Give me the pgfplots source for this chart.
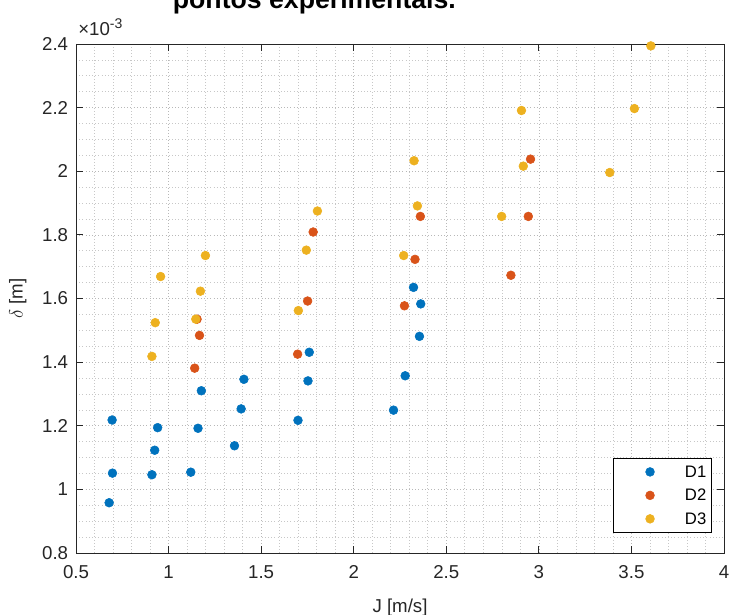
\documentclass[border=0pt]{standalone}
\usepackage{fontspec}
\setmainfont{Liberation Sans}
\usepackage{pgfplots}
\pgfplotsset{compat=1.18}

\definecolor{mblue}{rgb}{0,0.447,0.741}
\definecolor{mred}{rgb}{0.85,0.325,0.098}
\definecolor{myellow}{rgb}{0.929,0.694,0.125}
\definecolor{axgray}{rgb}{0.15,0.15,0.15}

% delta in units of 1e-3 m
\pgfplotstableread{
J delta
0.679 0.958
0.697 1.051
0.695 1.218
0.941 1.194
0.925 1.123
0.910 1.046
1.159 1.192
1.177 1.310
1.120 1.054
1.407 1.346
1.392 1.253
1.356 1.137
1.760 1.431
1.753 1.341
1.699 1.217
2.323 1.635
2.362 1.583
2.355 1.481
2.278 1.357
2.215 1.249
}\dataA
\pgfplotstableread{
J delta
1.154 1.535
1.167 1.484
1.141 1.381
1.697 1.425
1.751 1.592
1.781 1.809
2.274 1.577
2.331 1.723
2.360 1.858
2.849 1.673
2.943 1.858
2.955 2.038
}\dataB
\pgfplotstableread{
J delta
0.910 1.418
0.928 1.524
0.957 1.669
1.147 1.535
1.172 1.623
1.199 1.735
1.701 1.562
1.744 1.752
1.804 1.875
2.270 1.735
2.344 1.891
2.326 2.033
2.799 1.858
2.916 2.016
2.906 2.191
3.383 1.996
3.516 2.197
3.605 2.394
}\dataC

\begin{document}
\begin{tikzpicture}
\begin{axis}[
  scale only axis,
  width=486pt, height=381.75pt,
  xmin=0.5, xmax=4, ymin=0.8, ymax=2.4,
  xtick={0.5,1,1.5,2,2.5,3,3.5,4},
  ytick={0.8,1,1.2,1.4,1.6,1.8,2,2.2,2.4},
  minor x tick num=4, minor y tick num=3,
  grid=both,
  major grid style={dotted, color=black!28, line width=0.5pt},
  minor grid style={dotted, color=black!22, line width=0.5pt},
  tick align=inside, major tick length=5pt, minor tick length=0pt,
  axis line style={axgray, line width=0.6pt},
  tick style={axgray, line width=0.6pt},
  /pgf/number format/assume math mode=true,
  ticklabel style={font=\fontsize{14}{16}\selectfont, text=axgray},
  xticklabel style={yshift=-6pt},
  yticklabel style={xshift=-2.4pt},
  xlabel={J [m/s]}, ylabel={$\delta$ [m]},
  label style={font=\fontsize{14}{16}\selectfont, text=axgray},
  xlabel style={at={(axis description cs:0.5,0)}, anchor=base, yshift=-45pt},
  ylabel style={at={(axis description cs:0,0.5)}, anchor=base, yshift=40pt},
  legend style={at={(0.9815,0.0393)}, anchor=south east, draw=black,
    line width=0.6pt, font=\fontsize{12.5}{14}\selectfont,
    inner xsep=0pt, inner ysep=1.5pt, row sep=0pt,
    nodes={inner ysep=0pt, inner xsep=4pt, text height=13pt, text depth=4.6pt}},
  legend cell align=left,
  legend image code/.code={\path (0pt,0pt) (49pt,0pt); \draw[#1] plot coordinates {(27pt,0pt)};},
]
\addplot[only marks, mark=*, mark size=3.3pt, color=mblue, line width=0.4pt] table[x=J, y=delta] {\dataA};
\addplot[only marks, mark=*, mark size=3.3pt, color=mred, line width=0.4pt] table[x=J, y=delta] {\dataB};
\addplot[only marks, mark=*, mark size=3.3pt, color=myellow, line width=0.4pt] table[x=J, y=delta] {\dataC};
\legend{D1,D2,D3}
\coordinate (sw) at (rel axis cs:0,0);
\coordinate (ne) at (rel axis cs:1,1);
\coordinate (nw) at (rel axis cs:0,1);
\end{axis}
\node[anchor=base, inner sep=0pt, font=\bfseries\fontsize{20}{24}\selectfont]
  at ([xshift=178.8pt, yshift=26.25pt]nw) {pontos experimentais.};
\node[anchor=base west, inner sep=0pt, text=axgray, font=\fontsize{14}{16}\selectfont]
  at ([xshift=1.5pt, yshift=6pt]nw) {×10\raisebox{0.42em}{\fontsize{10.5}{11}\selectfont -3}};
\pgfresetboundingbox
\useasboundingbox ([shift={(-57pt,-46.5pt)}]sw) rectangle ([shift={(5.25pt,33pt)}]ne);
\end{tikzpicture}
\end{document}
